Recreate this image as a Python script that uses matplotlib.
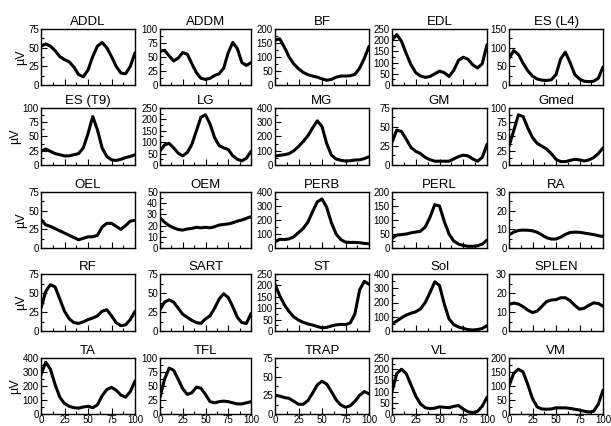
import matplotlib
matplotlib.use("Agg")
import matplotlib.pyplot as plt
from matplotlib.ticker import MultipleLocator, AutoMinorLocator

plt.rcParams['font.family'] = ['Liberation Sans', 'DejaVu Sans']

# gait cycle (%)
gait = [0, 5, 10, 15, 20, 25, 30, 35, 40, 45, 50, 55, 60, 65, 70, 75, 80, 85, 90, 95, 100]

ADDL = [52, 55, 52, 46, 38, 34, 31, 24, 14, 11, 20, 38, 52, 57, 50, 38, 25, 16, 15, 25, 43]
ADDM = [60, 62, 52, 43, 48, 58, 55, 38, 22, 12, 10, 12, 17, 20, 30, 58, 76, 65, 40, 35, 40]
BF = [160, 165, 135, 100, 75, 58, 45, 37, 32, 28, 22, 17, 20, 28, 32, 32, 33, 38, 60, 95, 138]
EDL = [200, 225, 195, 140, 90, 55, 40, 34, 38, 50, 62, 55, 38, 65, 110, 124, 115, 90, 76, 95, 180]
ES_L4 = [72, 92, 82, 58, 38, 24, 16, 13, 12, 14, 28, 70, 88, 60, 28, 16, 10, 9, 10, 18, 48]
ES_T9 = [24, 28, 24, 20, 18, 16, 16, 18, 20, 30, 55, 85, 62, 30, 15, 9, 8, 10, 13, 15, 18]
LG = [62, 88, 95, 75, 52, 40, 55, 90, 150, 210, 220, 180, 120, 85, 75, 68, 40, 25, 18, 30, 60]
MG = [62, 68, 72, 80, 100, 130, 165, 205, 260, 310, 270, 150, 70, 42, 33, 28, 30, 35, 36, 45, 58]
GM = [30, 46, 44, 34, 23, 18, 15, 10, 7, 5, 5, 5, 5, 8, 11, 13, 12, 8, 5, 10, 27]
GMED = [33, 60, 88, 85, 65, 48, 38, 33, 28, 20, 10, 6, 6, 8, 10, 9, 7, 9, 13, 20, 30]
OEL = [38, 31, 29, 26, 23, 20, 17, 14, 11, 13, 15, 15, 17, 28, 33, 33, 29, 25, 30, 36, 37]
OEM = [27, 23, 20, 18, 16.5, 16, 17, 17.5, 18.5, 18, 18.5, 18, 19, 20.5, 21, 21.5, 22.5, 24, 25, 26.5, 28]
PERB = [45, 62, 60, 65, 80, 110, 140, 185, 260, 330, 350, 290, 180, 100, 60, 42, 40, 40, 38, 33, 30]
PERL = [35, 46, 48, 50, 54, 57, 60, 75, 110, 155, 150, 95, 50, 25, 14, 9, 6, 6, 8, 14, 28]
RA = [7, 8.5, 9.4, 9.6, 9.5, 9.2, 8.4, 7, 5.5, 4.8, 4.8, 5.8, 7.3, 8.3, 8.5, 8.4, 8, 7.6, 7.2, 6.6, 6.2]
RF = [30, 52, 61, 58, 42, 26, 16, 11, 10, 12, 15, 17, 20, 26, 28, 20, 11, 7, 8, 15, 26]
SART = [28, 38, 41, 38, 30, 22, 18, 14, 11, 10, 16, 20, 30, 42, 49, 44, 32, 18, 11, 10, 23]
ST = [205, 155, 115, 85, 62, 48, 38, 31, 26, 20, 14, 16, 22, 27, 29, 28, 35, 75, 180, 218, 205]
SOL = [50, 70, 92, 112, 125, 135, 155, 200, 270, 345, 320, 190, 85, 45, 28, 18, 10, 7, 10, 18, 38]
SPLEN = [14, 14.7, 14.2, 12.8, 11, 9.7, 10.5, 13, 15.5, 16.3, 16.5, 17.5, 17.5, 16, 13.5, 11.5, 12, 13.5, 14.8, 14.5, 13]
TA = [280, 370, 320, 210, 120, 75, 55, 45, 42, 50, 55, 45, 65, 130, 175, 190, 170, 135, 120, 160, 235]
TFL = [30, 62, 82, 78, 62, 45, 35, 38, 48, 46, 35, 22, 20, 22, 23, 22, 20, 18, 18, 20, 22]
TRAP = [25, 24, 22, 21, 17, 13, 13, 18, 28, 39, 44, 40, 30, 19, 12, 9, 11, 17, 25, 30, 27]
VL = [100, 180, 200, 180, 130, 80, 45, 28, 24, 26, 32, 30, 28, 34, 38, 22, 10, 6, 12, 35, 75]
VM = [100, 145, 160, 150, 105, 55, 25, 18, 17, 18, 22, 22, 22, 20, 17, 14, 10, 7, 10, 35, 85]

titles = ["ADDL", "ADDM", "BF", "EDL", "ES (L4)",
          "ES (T9)", "LG", "MG", "GM", "Gmed",
          "OEL", "OEM", "PERB", "PERL", "RA",
          "RF", "SART", "ST", "Sol", "SPLEN",
          "TA", "TFL", "TRAP", "VL", "VM"]
series = [ADDL, ADDM, BF, EDL, ES_L4,
          ES_T9, LG, MG, GM, GMED,
          OEL, OEM, PERB, PERL, RA,
          RF, SART, ST, SOL, SPLEN,
          TA, TFL, TRAP, VL, VM]
ymax = [75, 100, 200, 250, 150,
        100, 250, 400, 75, 100,
        75, 50, 400, 200, 30,
        75, 75, 250, 400, 30,
        400, 100, 75, 250, 200]
ystep = [25, 25, 50, 50, 50,
         25, 50, 100, 25, 25,
         25, 10, 100, 50, 10,
         25, 25, 50, 100, 10,
         100, 25, 25, 50, 50]
xticks = [0, 25, 50, 75, 100]

W, H = 611, 426
fig = plt.figure(figsize=(W / 100, H / 100), dpi=100)

col_l = [41, 160, 275, 392, 509]
col_r = [135, 251, 369, 487, 603]
row_t = [29, 108, 192, 274, 358]
row_b = [85, 165, 248, 331, 414]

for i in range(25):
    r, c = divmod(i, 5)
    ax = fig.add_axes([col_l[c] / W, 1 - row_b[r] / H,
                       (col_r[c] - col_l[c]) / W, (row_b[r] - row_t[r]) / H])
    ax.plot(gait, series[i], color='black', lw=2.2, solid_joinstyle='round',
            solid_capstyle='round')
    ax.set_xlim(0, 100)
    ax.set_ylim(0, ymax[i])
    ax.set_xticks(xticks)
    ax.xaxis.set_minor_locator(AutoMinorLocator(2))
    ax.yaxis.set_major_locator(MultipleLocator(ystep[i]))
    ax.yaxis.set_minor_locator(AutoMinorLocator(2))
    ax.tick_params(which='both', direction='in', top=False, right=False,
                   labelsize=7, pad=1.5, width=0.8)
    ax.tick_params(axis='x', pad=0.5)
    ax.tick_params(which='major', length=4)
    ax.tick_params(which='minor', length=2)
    for s in ax.spines.values():
        s.set_linewidth(1.0)
    if r < 4:
        ax.set_xticklabels([])
    ax.set_title(titles[i], fontsize=9.5, pad=3)
    if c == 0:
        ax.set_ylabel("µV", fontsize=9, labelpad=1)

fig.savefig("out.png", dpi=100)
